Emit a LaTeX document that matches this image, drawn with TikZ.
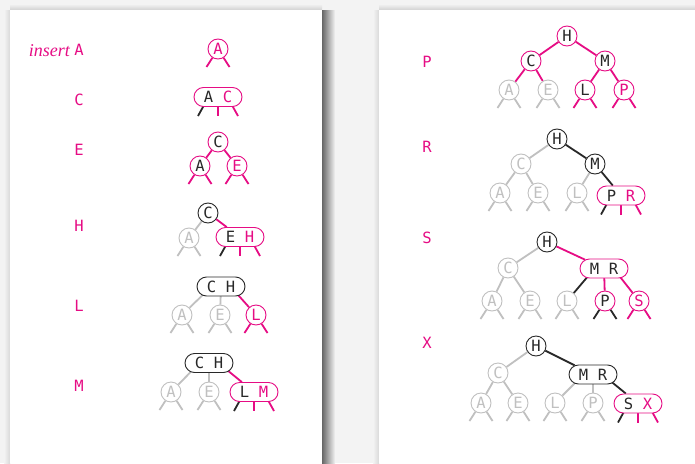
\documentclass[tikz,border=0pt]{standalone}
\usepackage{fontspec}
\newfontfamily\keyfont{DejaVu Sans Mono}
\newfontfamily\insfont{Liberation Serif}
\usetikzlibrary{shapes.misc,calc}
\definecolor{mag}{RGB}{230,12,132}
\definecolor{lgray}{RGB}{192,192,192}
\definecolor{ink}{RGB}{40,40,40}
\definecolor{bgc}{RGB}{243,243,243}
\pgfdeclarelayer{bg}
\pgfdeclarelayer{links}
\pgfsetlayers{bg,links,main}
\newcommand\cleg[2]{\begin{pgfonlayer}{links}\draw[lk,#2] (#1) -- +(-11.5,18); \draw[lk,#2] (#1) -- +(11.5,18);\end{pgfonlayer}}
\newcommand\pleg[4]{\begin{pgfonlayer}{links}\draw[lk,#2] ($(#1)+(-9.5,0)$) -- +(-10.5,19); \draw[lk,#3] ($(#1)+(0,0)$) -- +(0,19); \draw[lk,#4] ($(#1)+(9.5,0)$) -- +(10.5,19);\end{pgfonlayer}}
\newcommand\lnk[3]{\begin{pgfonlayer}{links}\draw[lk,#3] (#1) -- (#2);\end{pgfonlayer}}
\newcommand\llnk[3]{\begin{pgfonlayer}{links}\draw[lk,#3] ($(#1)+(-9.5,0)$) -- (#2);\end{pgfonlayer}}
\newcommand\rlnk[3]{\begin{pgfonlayer}{links}\draw[lk,#3] ($(#1)+(9.5,0)$) -- (#2);\end{pgfonlayer}}
\newcommand\kk[2]{#1\hspace{9.7pt}#2}
\begin{document}
\begin{tikzpicture}[x=1pt,y=-1pt,
  keyf/.style={font=\keyfont\fontsize{15.5}{15.5}\selectfont},
  kn/.style={circle, draw, fill=white, minimum size=20pt, inner sep=0pt, line width=0.9pt, keyf},
  two/.style={rounded rectangle, draw, fill=white, minimum width=48pt, minimum height=19pt, inner sep=0pt, line width=0.9pt, keyf},
  rn/.style={draw=mag, text=ink},
  rk/.style={draw=mag, text=mag},
  gn/.style={draw=lgray, text=lgray},
  bn/.style={draw=ink, text=ink},
  lk/.style={line width=1.8pt},
  lab/.style={text=mag, keyf}]
\useasboundingbox (0,0) rectangle (695,463);
\begin{pgfonlayer}{bg}
\fill[bgc] (0,0) rectangle (695,463);
\shade[top color=bgc, bottom color=black!18] (10,4) rectangle (322,10);
\shade[top color=bgc, bottom color=black!18] (379,4) rectangle (695,10);
\shade[left color=bgc, right color=black!15] (4,10) rectangle (10,463);
\shade[left color=bgc, right color=black!15] (373,10) rectangle (379,463);
\shade[left color=black!60, right color=bgc] (322,10) rectangle (335,463);
\fill[white] (10,10) rectangle (322,463);
\fill[white] (379,10) rectangle (695,463);
\end{pgfonlayer}
% labels
\node[text=mag, anchor=base east, inner sep=0pt, font=\insfont\itshape\fontsize{18}{18}\selectfont] (ins) at (70,56) {insert};
\node[lab] (lA) at (79,50) {A};
\node[lab] (lC) at (79,100) {C};
\node[lab] (lE) at (79,150) {E};
\node[lab] (lH) at (79,226) {H};
\node[lab] (lL) at (79,306) {L};
\node[lab] (lM) at (79,386) {M};
\node[lab] (lP) at (427,62) {P};
\node[lab] (lR) at (427,147) {R};
\node[lab] (lS) at (427,238) {S};
\node[lab] (lX) at (427,343) {X};
% tree 1
\node[kn,rk] (a1) at (218,49) {A};
\cleg{a1}{mag}
% tree 2
\node[two,draw=mag,text=ink] (p2) at (218,97) {\kk{A}{\textcolor{mag}{C}}};
\pleg{p2}{ink}{mag}{mag}
% tree 3
\node[kn,rn] (c3) at (218,142) {C};
\node[kn,rn] (a3) at (200,166) {A};
\node[kn,rk] (e3) at (237,166) {E};
\lnk{c3}{a3}{mag}\lnk{c3}{e3}{mag}
\cleg{a3}{mag}\cleg{e3}{mag}
% tree 4
\node[kn,bn] (c4) at (208,213) {C};
\node[kn,gn] (a4) at (189,238) {A};
\node[two,draw=mag,text=ink] (p4) at (240,237) {\kk{E}{\textcolor{mag}{H}}};
\lnk{c4}{a4}{lgray}\lnk{c4}{p4}{mag}
\cleg{a4}{lgray}\pleg{p4}{ink}{mag}{mag}
% tree 5
\node[two,bn] (p5) at (221,286.5) {\kk{C}{H}};
\node[kn,gn] (a5) at (182,315) {A};
\node[kn,gn] (e5) at (220,315) {E};
\node[kn,rk] (l5) at (256,315) {L};
\llnk{p5}{a5}{lgray}\lnk{p5.center}{e5}{lgray}\rlnk{p5}{l5}{mag}
\cleg{a5}{lgray}\cleg{e5}{lgray}\cleg{l5}{mag}
% tree 6
\node[two,bn] (p6) at (209,363) {\kk{C}{H}};
\node[kn,gn] (a6) at (171,392) {A};
\node[kn,gn] (e6) at (209,392) {E};
\node[two,draw=mag,text=ink] (q6) at (254,392) {\kk{L}{\textcolor{mag}{M}}};
\llnk{p6}{a6}{lgray}\lnk{p6.center}{e6}{lgray}\rlnk{p6}{q6}{mag}
\cleg{a6}{lgray}\cleg{e6}{lgray}\pleg{q6}{ink}{mag}{mag}
% tree P
\node[kn,rn] (hP) at (567,36) {H};
\node[kn,rn] (cP) at (531,61) {C};
\node[kn,rn] (mP) at (605,61) {M};
\node[kn,gn] (aP) at (509,90) {A};
\node[kn,gn] (eP) at (548,90) {E};
\node[kn,rn] (lP2) at (585,90) {L};
\node[kn,rk] (pP) at (624,90) {P};
\lnk{hP}{cP}{mag}\lnk{hP}{mP}{mag}\lnk{cP}{aP}{mag}\lnk{cP}{eP}{mag}\lnk{mP}{lP2}{mag}\lnk{mP}{pP}{mag}
\cleg{aP}{lgray}\cleg{eP}{lgray}\cleg{lP2}{mag}\cleg{pP}{mag}
% tree R
\node[kn,bn] (hR) at (557,139) {H};
\node[kn,gn] (cR) at (521,164) {C};
\node[kn,bn] (mR) at (595,164) {M};
\node[kn,gn] (aR) at (500,193) {A};
\node[kn,gn] (eR) at (538,193) {E};
\node[kn,gn] (lR2) at (577,193) {L};
\node[two,draw=mag,text=ink] (pR) at (621,195.5) {\kk{P}{\textcolor{mag}{R}}};
\lnk{hR}{cR}{lgray}\lnk{hR}{mR}{ink}\lnk{cR}{aR}{lgray}\lnk{cR}{eR}{lgray}\lnk{mR}{lR2}{lgray}\lnk{mR}{pR}{ink}
\cleg{aR}{lgray}\cleg{eR}{lgray}\cleg{lR2}{lgray}\pleg{pR}{ink}{mag}{mag}
% tree S
\node[kn,bn] (hS) at (547,242) {H};
\node[kn,gn] (cS) at (508,268) {C};
\node[two,draw=mag,text=ink] (mS) at (604,268.5) {\kk{M}{R}};
\node[kn,gn] (aS) at (492,301) {A};
\node[kn,gn] (eS) at (530,301) {E};
\node[kn,gn] (lS2) at (567,301) {L};
\node[kn,rn] (pS) at (605,301) {P};
\node[kn,rk] (sS) at (639,301) {S};
\lnk{hS}{cS}{lgray}\lnk{hS}{mS}{mag}\lnk{cS}{aS}{lgray}\lnk{cS}{eS}{lgray}
\llnk{mS}{lS2}{ink}\lnk{mS.center}{pS}{mag}\rlnk{mS}{sS}{mag}
\cleg{aS}{lgray}\cleg{eS}{lgray}\cleg{lS2}{lgray}\cleg{pS}{ink}\cleg{sS}{mag}
% tree X
\node[kn,bn] (hX) at (536,346) {H};
\node[kn,gn] (cX) at (498,373) {C};
\node[two,bn] (mX) at (593,374.5) {\kk{M}{R}};
\node[kn,gn] (aX) at (481,403) {A};
\node[kn,gn] (eX) at (518,403) {E};
\node[kn,gn] (lX2) at (555,403) {L};
\node[kn,gn] (pX) at (593,403) {P};
\node[two,draw=mag,text=ink] (sX) at (638,403.5) {\kk{S}{\textcolor{mag}{X}}};
\lnk{hX}{cX}{lgray}\lnk{hX}{mX}{ink}\lnk{cX}{aX}{lgray}\lnk{cX}{eX}{lgray}
\llnk{mX}{lX2}{lgray}\lnk{mX.center}{pX}{lgray}\rlnk{mX}{sX}{ink}
\cleg{aX}{lgray}\cleg{eX}{lgray}\cleg{lX2}{lgray}\cleg{pX}{lgray}\pleg{sX}{ink}{mag}{mag}
\end{tikzpicture}
\end{document}
